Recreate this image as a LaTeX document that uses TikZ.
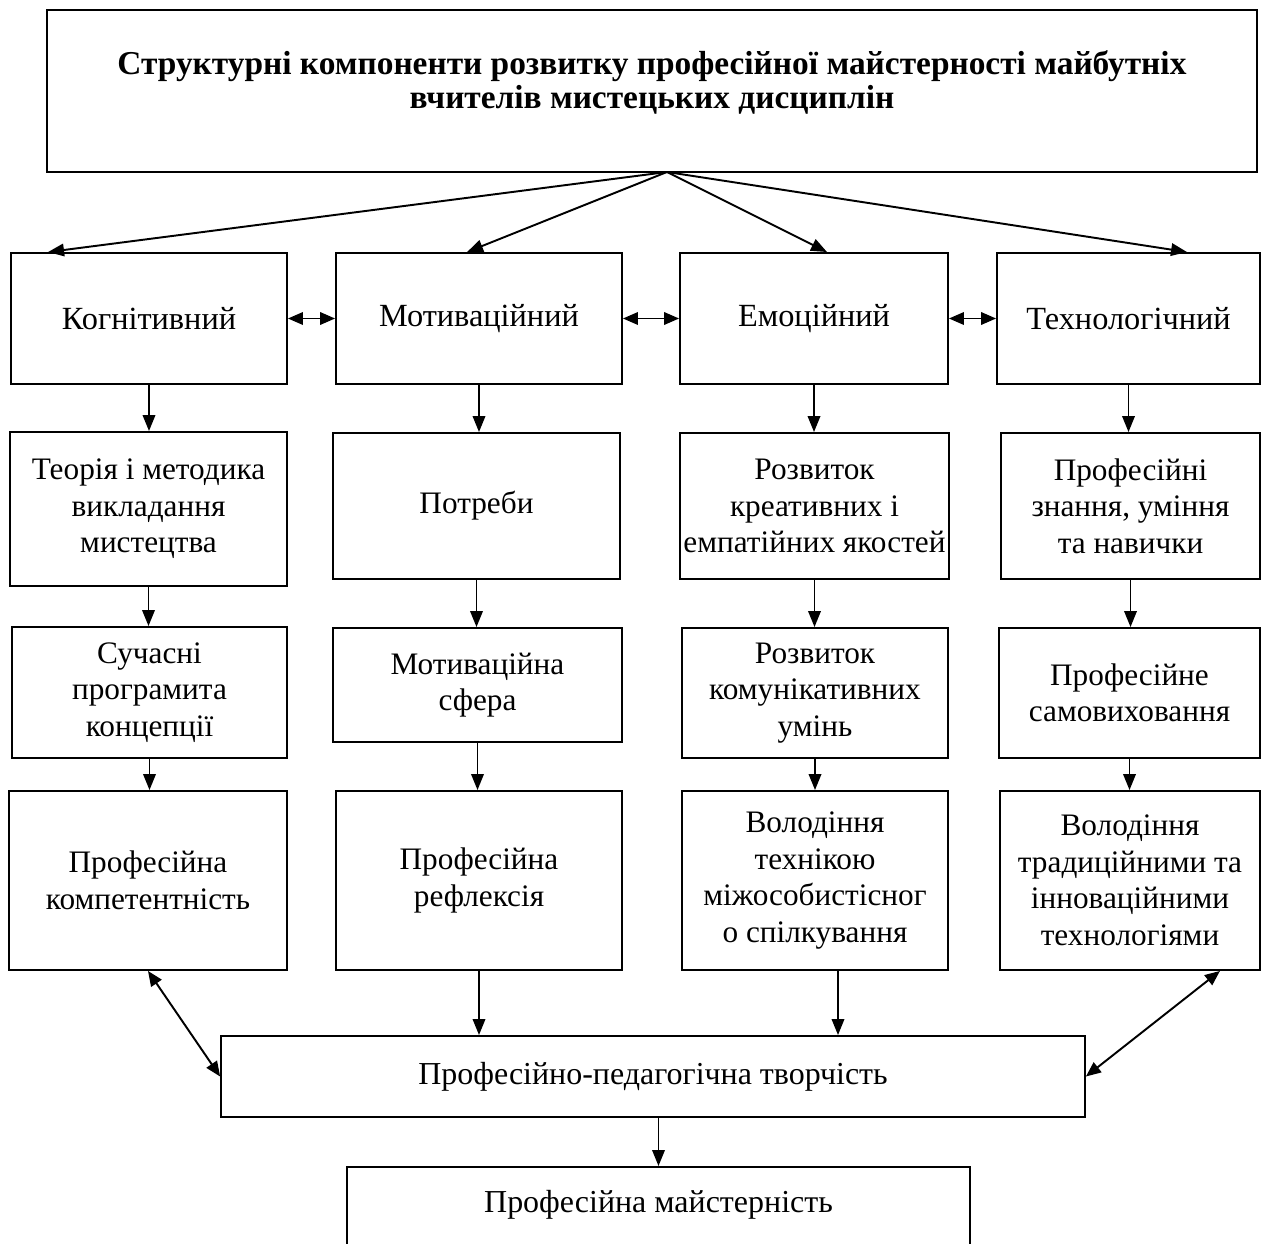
\documentclass[tikz,border=0pt]{standalone}
\usepackage{fontspec}
\setmainfont{Liberation Serif}
\usepackage{tikz}
\usetikzlibrary{arrows.meta}

\begin{document}
\begin{tikzpicture}[
  x=0.02cm, y=-0.02cm,
  font=\fontsize{17.8}{20.8}\selectfont,
  box/.style={draw,line width=1.1pt,align=center,inner sep=2pt},
  arr/.style={-{Triangle[length=0.32cm,width=0.25cm]},line width=1.1pt},
  darr/.style={{Triangle[length=0.3cm,width=0.25cm]}-{Triangle[length=0.3cm,width=0.25cm]},line width=1.1pt}
]
\useasboundingbox (0,0) rectangle (1263,1243);
% header
\node[box,minimum width=24.2cm,minimum height=3.24cm] (head) at (652,91) {};
\node[font=\fontsize{19}{19.4}\selectfont\bfseries,align=center] (headtext) at (652,82)
  {Структурні компоненти розвитку професійної майстерності майбутніх\\вчителів мистецьких дисциплін};
\coordinate (apex) at (667,172);
% components
\node[box,minimum width=5.52cm,minimum height=2.62cm,font=\fontsize{18.4}{20.8}\selectfont] (k1) at (149,318.5) {Когнітивний};
\node[box,minimum width=5.72cm,minimum height=2.62cm,font=\fontsize{18.4}{20.8}\selectfont] (m1) at (479,318.5) {Мотиваційний};
\node[box,minimum width=5.36cm,minimum height=2.62cm,font=\fontsize{18.4}{20.8}\selectfont] (e1) at (814,318.5) {Емоційний};
\node[box,minimum width=5.26cm,minimum height=2.62cm,font=\fontsize{18.4}{20.8}\selectfont] (t1) at (1128.5,318.5) {Технологічний};
% second row
\node[box,minimum width=5.54cm,minimum height=3.08cm] (k2) at (148.5,509) {Теорія і методика\\викладання\\мистецтва};
\node[box,minimum width=5.74cm,minimum height=2.92cm] (m2) at (476.5,506) {Потреби};
\node[box,minimum width=5.34cm,minimum height=2.92cm] (e2) at (814.5,506) {Розвиток\\креативних і\\емпатійних якостей};
\node[box,minimum width=5.18cm,minimum height=2.92cm] (t2) at (1130.5,506) {Професійні\\знання, уміння\\та навички};
% third row
\node[box,minimum width=5.5cm,minimum height=2.62cm] (k3) at (149.5,692.5) {Сучасні\\програмита\\концепції};
\node[box,minimum width=5.78cm,minimum height=2.28cm] (m3) at (477.5,685) {Мотиваційна\\сфера};
\node[box,minimum width=5.32cm,minimum height=2.6cm] (e3) at (815,693) {Розвиток\\комунікативних\\умінь};
\node[box,minimum width=5.22cm,minimum height=2.6cm] (t3) at (1129.5,693) {Професійне\\самовиховання};
% fourth row
\node[box,minimum width=5.56cm,minimum height=3.58cm] (k4) at (148,880.5) {Професійна\\компетентність};
\node[box,minimum width=5.72cm,minimum height=3.58cm] (m4) at (479,880.5) {Професійна\\рефлексія};
\node[box,minimum width=5.32cm,minimum height=3.58cm] (e4) at (815,880.5) {Володіння\\технікою\\міжособистісног\\о спілкування};
\node[box,minimum width=5.2cm,minimum height=3.58cm] (t4) at (1130,880.5) {Володіння\\традиційними та\\інноваційними\\технологіями};
% result
\node[box,minimum width=17.28cm,minimum height=1.62cm,font=\fontsize{18.2}{20.8}\selectfont] (creat) at (653,1076.5) {Професійно-педагогічна творчість};
\node[box,anchor=north,minimum width=12.46cm,inner ysep=0pt,text height=0.92cm,text depth=1.56cm,font=\fontsize{18.2}{20.8}\selectfont] (mast) at (658.5,1166) {Професійна майстерність};
\coordinate (e4out) at ([xshift=0.46cm]e4.south);
\coordinate (t4out) at ([xshift=-0.82cm]t4.south east);
% connectors
\draw[arr] (apex) -- ([xshift=0.76cm]k1.north west);
\draw[arr] (apex) -- ([xshift=2.64cm]m1.north west);
\draw[arr] (apex) -- ([xshift=2.96cm]e1.north west);
\draw[arr] (apex) -- ([xshift=3.82cm]t1.north west);
\draw[darr] (k1) -- (m1);
\draw[darr] (m1) -- (e1);
\draw[darr] (e1) -- (t1);
\draw[arr] (k1.south) -- (k1.south |- k2.north);
\draw[arr] (k2.south) -- (k2.south |- k3.north);
\draw[arr] (k3.south) -- (k3.south |- k4.north);
\draw[arr] (m1.south) -- (m1.south |- m2.north);
\draw[arr] (m2.south) -- (m2.south |- m3.north);
\draw[arr] (m3.south) -- (m3.south |- m4.north);
\draw[arr] (e1.south) -- (e1.south |- e2.north);
\draw[arr] (e2.south) -- (e2.south |- e3.north);
\draw[arr] (e3.south) -- (e3.south |- e4.north);
\draw[arr] (t1.south) -- (t1.south |- t2.north);
\draw[arr] (t2.south) -- (t2.south |- t3.north);
\draw[arr] (t3.south) -- (t3.south |- t4.north);
\draw[darr] (k4.south) -- (creat.west);
\draw[arr] (m4.south) -- (m4.south |- creat.north);
\draw[arr] (e4out) -- (e4out |- creat.north);
\draw[darr] (t4out) -- (creat.east);
\draw[arr] (mast.north |- creat.south) -- (mast.north);
\end{tikzpicture}
\end{document}
